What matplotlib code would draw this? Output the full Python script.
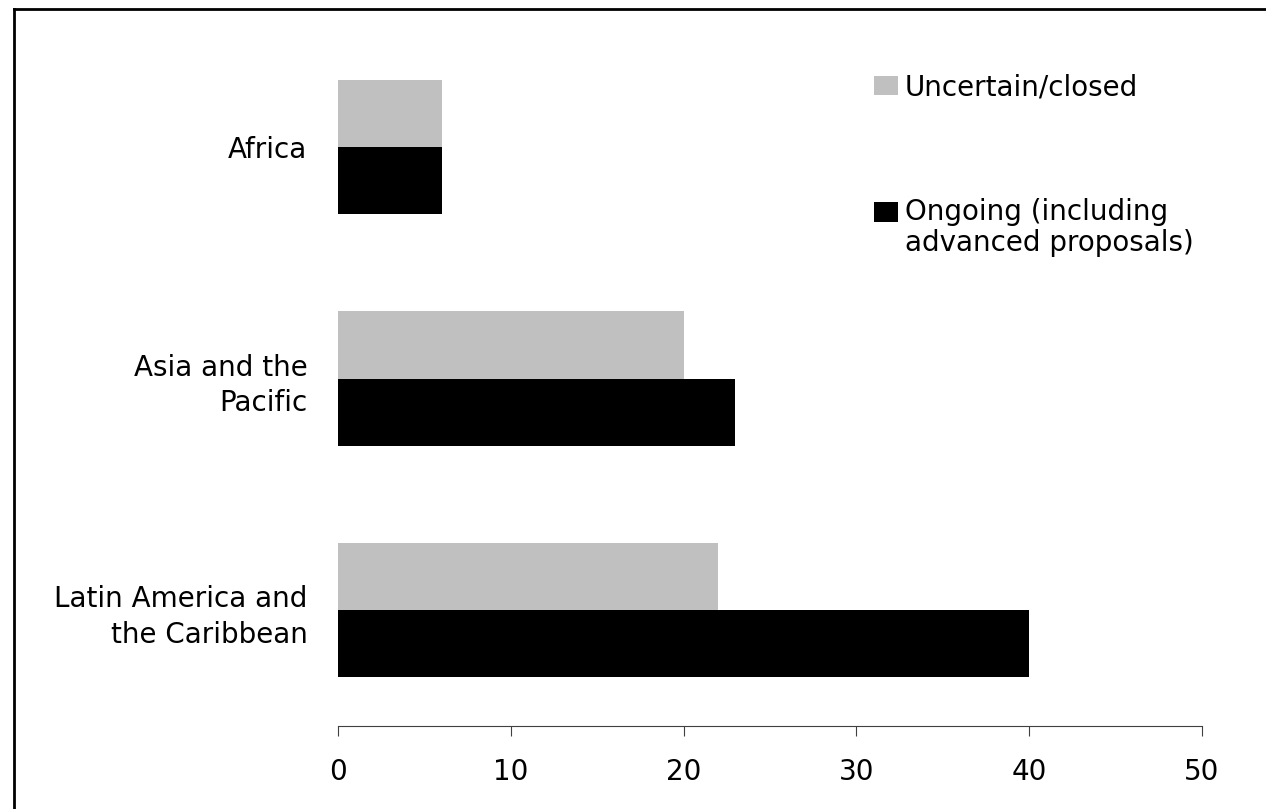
import matplotlib.pyplot as plt
import numpy as np
from matplotlib.patches import Rectangle
from matplotlib.lines import Line2D

# regions from bottom to top
regions = ["Latin America and\nthe Caribbean", "Asia and the\nPacific", "Africa"]
uncertain = [22, 20, 6]
ongoing = [40, 23, 6]
series_names = ["Uncertain/closed", "Ongoing (including\nadvanced proposals)"]
series_colors = ["#c0c0c0", "#000000"]
xticks = [0, 10, 20, 30, 40, 50]

plt.rcParams["font.family"] = ["DejaVu Sans"]
plt.rcParams["font.size"] = 20

W, H = 1266, 809
fig = plt.figure(figsize=(W / 100, H / 100), dpi=100)

def px(x, y):
    # pixel position -> figure fraction
    return x / W, 1 - y / H

ax = fig.add_axes([338 / W, 1 - 726 / H, (1202 - 338) / W, (726 - 31) / H])

y = np.arange(len(regions))
h = 0.29
ax.barh(y + h / 2, uncertain, height=h, color=series_colors[0])
ax.barh(y - h / 2, ongoing, height=h, color=series_colors[1])

ax.set_xlim(0, 50)
ax.set_ylim(-0.5, 2.5)
ax.set_xticks(xticks)
ax.set_yticks(y)
ax.set_yticklabels(regions, linespacing=1.35)

for s in ["top", "right", "left"]:
    ax.spines[s].set_visible(False)
ax.spines["bottom"].set_color("#404040")
ax.spines["bottom"].set_linewidth(0.8)
ax.tick_params(axis="x", direction="out", length=7, width=0.8, color="#404040", pad=16)
ax.tick_params(axis="y", length=0, pad=22)

# legend drawn by hand so the key sits on the first text line
keys = [(874, 76, 24, 19), (874, 202, 24, 20)]
text_tops = [73, 198]
for (kx, ky, kw, kh), top, name, col in zip(keys, text_tops, series_names, series_colors):
    x0, y0 = px(kx, ky + kh)
    fig.add_artist(Rectangle((x0, y0), kw / W, kh / H, transform=fig.transFigure,
                             facecolor=col, edgecolor="none"))
    tx, ty = px(905, top)
    fig.text(tx, ty, name, ha="left", va="top", linespacing=1.15)

# outer frame (top and left edges)
fig.add_artist(Line2D([14 / W, 1], [1 - 9 / H] * 2, transform=fig.transFigure,
                      color="black", linewidth=2, solid_capstyle="projecting"))
fig.add_artist(Line2D([14 / W] * 2, [0, 1 - 9 / H], transform=fig.transFigure,
                      color="black", linewidth=2, solid_capstyle="projecting"))

fig.savefig("out.png", dpi=100)
